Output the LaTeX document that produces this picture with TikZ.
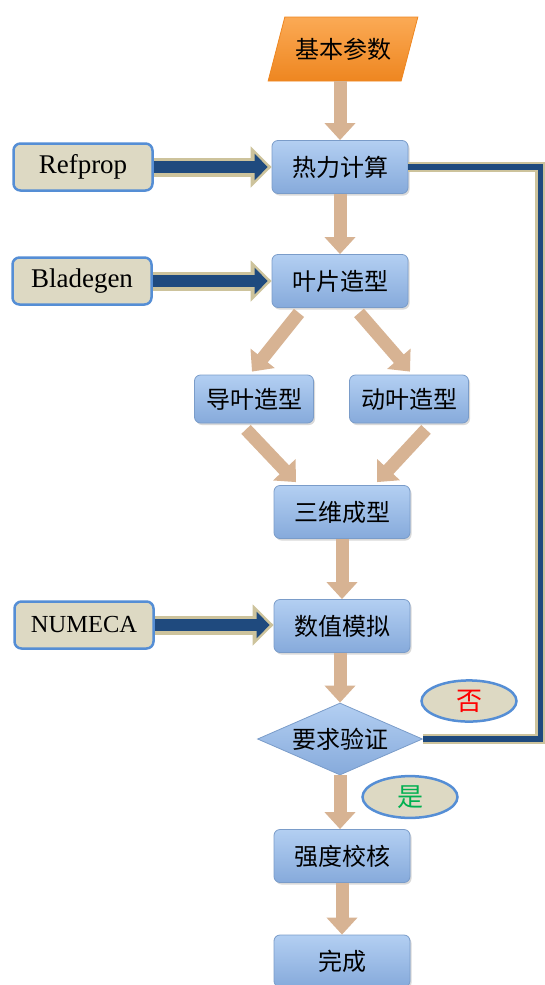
\documentclass[tikz,border=0pt]{standalone}
\usepackage{fontspec}
\setmainfont{Liberation Serif}
\newfontfamily\cjk{Noto Sans CJK SC}
\usetikzlibrary{shapes.geometric,arrows.meta,shadows}
\definecolor{boxtop}{HTML}{B3CFF2}
\definecolor{boxbot}{HTML}{86AADB}
\definecolor{boxedge}{HTML}{7A9CC9}
\definecolor{toolfill}{HTML}{DDD9C3}
\definecolor{tooledge}{HTML}{558ED5}
\definecolor{flowtan}{HTML}{D7B393}
\definecolor{feedkhaki}{HTML}{CDC39C}
\definecolor{feednavy}{HTML}{1F4A7E}
\definecolor{paramtop}{HTML}{FBAA55}
\definecolor{parambot}{HTML}{EE8620}
\definecolor{noRed}{HTML}{FF0000}
\definecolor{yesGreen}{HTML}{00B050}

\begin{document}
\begin{tikzpicture}[x=1pt, y=-1pt,
    proc/.style={rectangle, rounded corners=6pt, draw=boxedge, line width=0.8pt,
      top color=boxtop, bottom color=boxbot, minimum width=136pt, minimum height=53pt,
      font=\cjk\fontsize{24}{26}\selectfont,
      drop shadow={shadow xshift=1.5pt, shadow yshift=-2pt, opacity=0.3}},
    tool/.style={rectangle, rounded corners=7pt, draw=tooledge, line width=2.5pt,
      fill=toolfill, minimum width=139pt, minimum height=47pt,
      font=\fontsize{27}{29}\selectfont},
    tag/.style={ellipse, draw=tooledge, line width=2.5pt, fill=toolfill,
      minimum width=95pt, minimum height=40pt, font=\cjk\fontsize{26}{28}\selectfont},
    flow/.style={draw=flowtan, line width=13pt, -{Triangle[length=17pt,width=30pt]}},
    feedout/.style={draw=feedkhaki, line width=19pt, -{Triangle[length=21pt,width=40pt]}},
    feedin/.style={draw=feednavy, line width=12pt, -{Triangle[length=13pt,width=26pt]}, shorten >=4pt},
    loopout/.style={draw=feedkhaki, line width=10pt},
    loopin/.style={draw=feednavy, line width=5.5pt}]
    \useasboundingbox (0,0) rectangle (545,985);

    % main chain
    \node[trapezium, trapezium left angle=63, trapezium right angle=117, trapezium stretches=true,
      minimum width=150pt, minimum height=64pt, draw=parambot, line width=0.8pt,
      top color=paramtop, bottom color=parambot, font=\cjk\fontsize{24}{26}\selectfont]
      (cs) at (343,49) {基本参数};
    \node[proc] (rl) at (340,167) {热力计算};
    \node[proc] (yp) at (340,281) {叶片造型};
    \node[proc, minimum width=119pt, minimum height=48pt] (dy) at (254,399) {导叶造型};
    \node[proc, minimum width=119pt, minimum height=48pt] (dong) at (409,399) {动叶造型};
    \node[proc] (sw) at (342,512) {三维成型};
    \node[proc] (sz) at (342,626) {数值模拟};
    \node[diamond, draw=boxedge, line width=0.8pt, top color=boxtop, bottom color=boxbot,
      minimum width=165pt, minimum height=72pt, inner sep=0pt, aspect=2.3,
      font=\cjk\fontsize{24}{26}\selectfont] (yz) at (340,739) {要求验证};
    \node[proc] (qd) at (342,856) {强度校核};
    \node[proc, minimum height=52pt] (wc) at (342,961) {完成};

    % tools on the left
    \node[tool] (refprop) at (83,167) {Refprop};
    \node[tool] (bladegen) at (82,281) {Bladegen};
    \node[tool, font=\fontsize{24.5}{27}\selectfont] (numeca) at (84,625) {NUMECA};

    % answers
    \node[tag, text=noRed] (fou) at (469,701) {否};
    \node[tag, text=yesGreen] (shi) at (410,797) {是};

    % loop back from the check
    \draw[loopout] (rl.east) -- ++(132,0) |- (yz.east);
    \draw[loopin] (rl.east) -- ++(132,0) |- (yz.east);

    % tan flow arrows
    \draw[flow] (rl.north |- cs.south) -- (rl.north);
    \draw[flow] (rl.south) -- (yp.north);
    \draw[flow] ([xshift=-41pt,yshift=-5pt]yp.south) -- ([xshift=-2pt,yshift=3pt]dy.north);
    \draw[flow] ([xshift=19pt,yshift=-5pt]yp.south) -- ([xshift=1pt,yshift=3pt]dong.north);
    \draw[flow] ([xshift=-8pt,yshift=-6pt]dy.south) -- ([xshift=-46pt,yshift=3pt]sw.north);
    \draw[flow] ([xshift=17pt,yshift=-6pt]dong.south) -- ([xshift=35pt,yshift=3pt]sw.north);
    \draw[flow] (sw.south) -- (sz.north);
    \draw[flow] (yz.north |- sz.south) -- (yz.north);
    \draw[flow] (yz.south) -- (yz.south |- qd.north);
    \draw[flow] (qd.south) -- (wc.north);

    % blue input arrows
    \foreach \src/\dst in {refprop/rl, bladegen/yp, numeca/sz} {
      \draw[feedout] (\src.east) -- (\src.east -| \dst.west);
      \draw[feedin] (\src.east) -- (\src.east -| \dst.west);
    }
\end{tikzpicture}
\end{document}
